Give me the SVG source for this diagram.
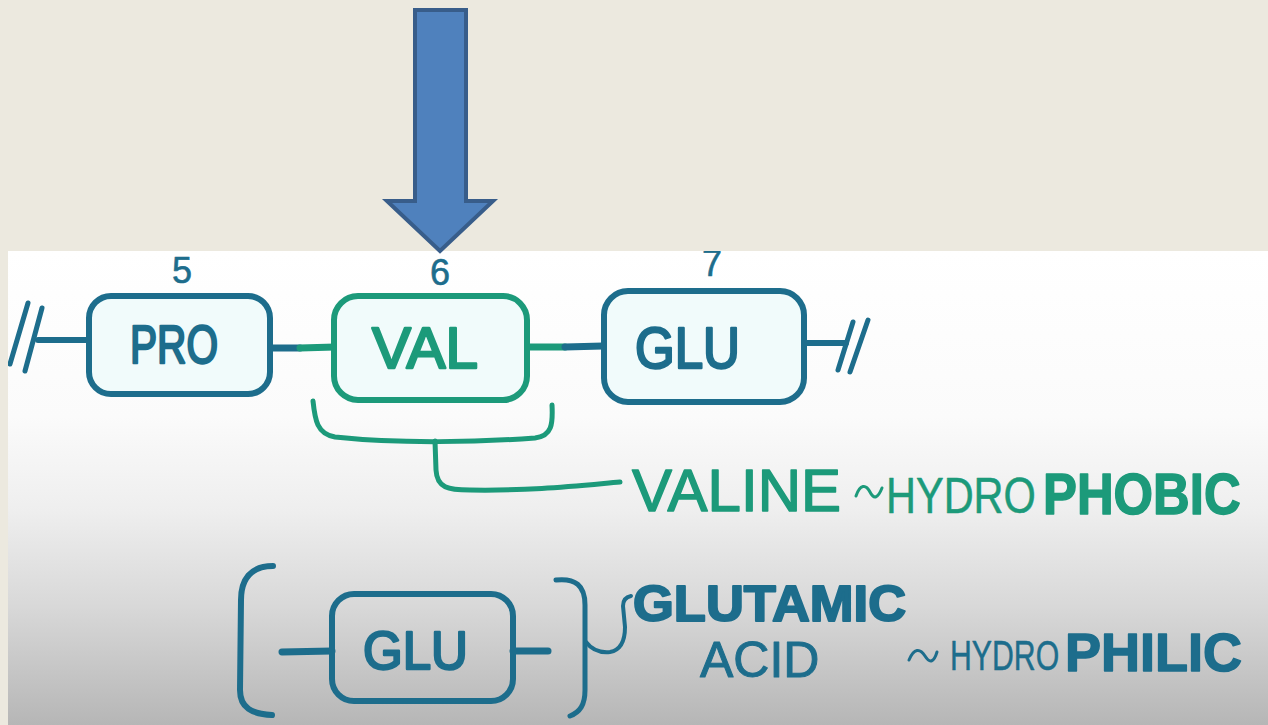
<svg xmlns="http://www.w3.org/2000/svg" width="1268" height="725" viewBox="0 0 1268 725">
  <defs>
    <linearGradient id="paper" x1="0" y1="251" x2="0" y2="725" gradientUnits="userSpaceOnUse">
      <stop offset="0" stop-color="#ffffff"/>
      <stop offset="0.35" stop-color="#fbfbfb"/>
      <stop offset="0.55" stop-color="#eeeeee"/>
      <stop offset="0.75" stop-color="#d8d8d8"/>
      <stop offset="1" stop-color="#b6b6b6"/>
    </linearGradient>
    <style>
      .ink { fill: none; stroke-linecap: round; stroke-linejoin: round; }
      .teal { stroke: #1d6d8c; }
      .green { stroke: #1c9a7a; }
      .box { fill: #f1fbfb; stroke-width: 6; stroke-linejoin: round; }
      .lbl { font-family: "Liberation Sans", Arial, sans-serif; stroke-linejoin: round; }
      .tealtxt { fill: #1d6d8c; stroke: #1d6d8c; }
      .greentxt { fill: #1c9a7a; stroke: #1c9a7a; }
    </style>
  </defs>

  <!-- whiteboard -->
  <rect x="0" y="0" width="1268" height="725" fill="url(#paper)"/>

  <!-- position numbers (tops hidden under the band above) -->
  <g class="lbl tealtxt" font-size="36" stroke-width="0.6" text-anchor="middle">
    <text x="182" y="283">5</text>
    <text x="440" y="285">6</text>
    <text x="712" y="276">7</text>
  </g>

  <!-- connectors -->
  <g id="connectors" class="ink">
    <!-- chain ends -->
    <path class="teal" stroke-width="5" d="M10,364 L28,303 M25,371 L42,308"/>
    <path class="teal" stroke-width="6" d="M38,340 L90,340"/>
    <path class="teal" stroke-width="6" d="M805,343 L846,343"/>
    <path class="teal" stroke-width="5" d="M838,370 L853,322 M850,372 L868,320"/>
    <!-- peptide bonds -->
    <path class="teal" stroke-width="7" d="M270,348 L300,348"/>
    <path class="green" stroke-width="7" d="M300,348 L335,347"/>
    <path class="green" stroke-width="7" d="M527,347 L565,347"/>
    <path class="teal" stroke-width="7" d="M565,347 L603,346"/>
    <!-- bracket under VAL to its label -->
    <path class="green" stroke-width="5" d="M313,401 C315,420 317,434 335,437 C400,444 480,442 535,438 C552,436 553,424 552,405"/>
    <path class="green" stroke-width="5" d="M435,441 L436,470 C437,488 448,490 470,490 C530,491 575,486 620,482"/>
    <!-- lower fragment -->
    <path class="teal" stroke-width="6" d="M273,566 C250,566 241,580 241,600 L240,690 C240,708 252,714 272,715"/>
    <path class="teal" stroke-width="7" d="M282,652 L332,651"/>
    <path class="teal" stroke-width="7" d="M513,651 L548,651"/>
    <path class="teal" stroke-width="5" d="M556,580 C575,578 585,585 585,605 L585,690 C585,705 580,712 570,716"/>
    <path class="teal" stroke-width="4" d="M586,642 C592,650 600,653 610,652 C621,650 625,641 625,627 L623,606 C623,600 626,597 631,596"/>
  </g>

  <!-- tripeptide nodes -->
  <g id="node-pro">
    <rect class="box teal" x="89" y="296" width="181" height="98" rx="22"/>
    <text class="lbl tealtxt" x="130" y="363" font-size="54" stroke-width="2.5" textLength="88" lengthAdjust="spacingAndGlyphs">PRO</text>
  </g>
  <g id="node-val">
    <rect class="box green" x="334" y="296" width="193" height="104" rx="24" stroke-width="7"/>
    <text class="lbl greentxt" x="372" y="368" font-size="58" stroke-width="2.5" textLength="106" lengthAdjust="spacingAndGlyphs">VAL</text>
  </g>
  <g id="node-glu">
    <rect class="box teal" x="604" y="291" width="200" height="111" rx="24"/>
    <text class="lbl tealtxt" x="635" y="368" font-size="58" stroke-width="2.5" textLength="105" lengthAdjust="spacingAndGlyphs">GLU</text>
  </g>
  <g id="node-glu-alone">
    <rect class="teal" x="332" y="594" width="181" height="107" rx="22" fill="none" stroke-width="6"/>
    <text class="lbl tealtxt" x="363" y="669" font-size="54" stroke-width="2.5" textLength="105" lengthAdjust="spacingAndGlyphs">GLU</text>
  </g>

  <!-- property labels -->
  <g id="label-valine" class="lbl greentxt">
    <text x="632" y="511" font-size="60" stroke-width="1.5">VALINE</text>
    <path class="ink green" stroke-width="3" d="M856,496 C860,484 866,484 870,492 C874,500 878,498 882,488"/>
    <text transform="translate(886,513) scale(0.83,1)" font-size="50" stroke-width="0.5">HYDRO</text>
    <text transform="translate(1043,514) scale(0.876,1)" font-size="58" font-weight="bold" stroke-width="1.5">PHOBIC</text>
  </g>
  <g id="label-glutamic" class="lbl tealtxt">
    <text transform="translate(633,621) scale(1.05,1)" font-size="50" font-weight="bold" stroke-width="2">GLUTAMIC</text>
    <text x="700" y="677" font-size="50" stroke-width="1">ACID</text>
    <path class="ink teal" stroke-width="3" d="M909,660 C914,648 920,648 925,656 C930,664 934,662 937,652"/>
    <text transform="translate(950,670) scale(0.72,1)" font-size="42" stroke-width="0.5">HYDRO</text>
    <text x="1065" y="671" font-size="54" font-weight="bold" stroke-width="1.5">PHILIC</text>
  </g>

  <!-- surrounding slide frame -->
  <rect x="0" y="0" width="1268" height="251" fill="#ece9df"/>
  <rect x="0" y="251" width="8" height="474" fill="#ece9df"/>

  <!-- pointer arrow -->
  <g id="pointer">
    <path d="M415,10 L466,10 L466,201 L493,201 L440,251 L387,201 L415,201 Z" fill="#4f81bd" stroke="#385d8a" stroke-width="4" stroke-linejoin="miter"/>
  </g>
</svg>
